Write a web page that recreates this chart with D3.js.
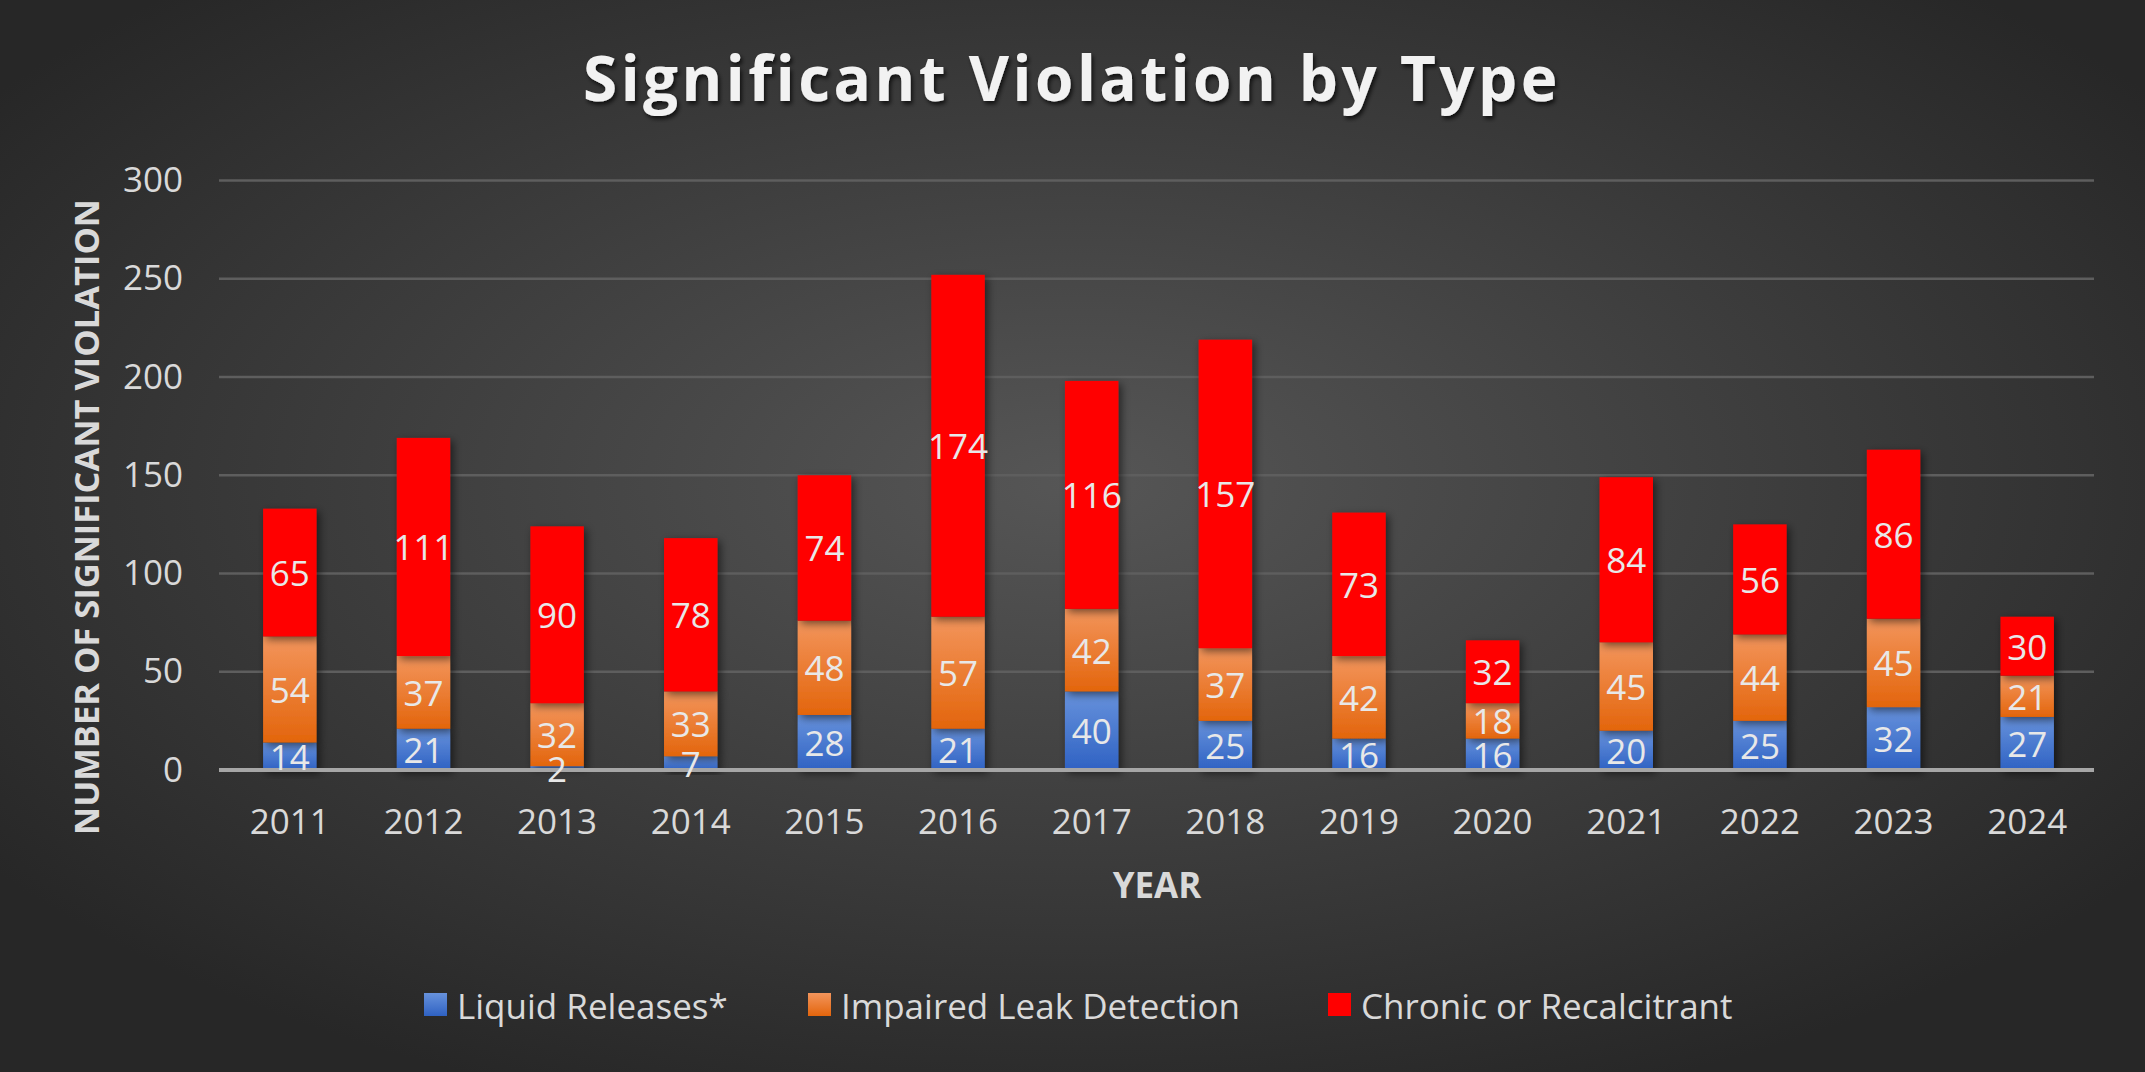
<!DOCTYPE html>
<html><head><meta charset="utf-8">
<script src="https://cdn.jsdelivr.net/npm/d3@7"></script>
<style>html,body{margin:0;padding:0;background:#2b2b2b;overflow:hidden}</style>
</head><body>
<svg id="chart" width="2145" height="1072"></svg>
<script>
const years = ["2011","2012","2013","2014","2015","2016","2017","2018","2019","2020","2021","2022","2023","2024"];
const liquidReleases = [14,21,2,7,28,21,40,25,16,16,20,25,32,27];
const impairedLeak = [54,37,32,33,48,57,42,37,42,18,45,44,45,21];
const chronic = [65,111,90,78,74,174,116,157,73,32,84,56,86,30];
const seriesNames = ["Liquid Releases*","Impaired Leak Detection","Chronic or Recalcitrant"];
const yTicks = [0,50,100,150,200,250,300];

const W = 2145, H = 1072;
const svg = d3.select("#chart");
const defs = svg.append("defs");

const bg = defs.append("radialGradient").attr("id","bg")
  .attr("cx","0.5").attr("cy","0.45").attr("r","0.62").attr("fx","0.5").attr("fy","0.45");
bg.append("stop").attr("offset","0").attr("stop-color","#565656");
bg.append("stop").attr("offset","1").attr("stop-color","#272727");

function vgrad(id, top, bottom){
  const g = defs.append("linearGradient").attr("id",id).attr("x1",0).attr("y1",0).attr("x2",0).attr("y2",1);
  g.append("stop").attr("offset","0").attr("stop-color",top);
  g.append("stop").attr("offset","1").attr("stop-color",bottom);
}
vgrad("gBlue","#6792dc","#2f62c3");
vgrad("gOrange","#f3955c","#e3650c");
vgrad("gRed","#ff0000","#ff0000");
const fills = ["url(#gBlue)","url(#gOrange)","url(#gRed)"];

const sh = defs.append("filter").attr("id","shadow").attr("x","-30%").attr("y","-30%").attr("width","160%").attr("height","160%");
sh.append("feDropShadow").attr("dx",3).attr("dy",3).attr("stdDeviation",4).attr("flood-color","#000").attr("flood-opacity",0.55);
const tsh = defs.append("filter").attr("id","tshadow").attr("x","-10%").attr("y","-30%").attr("width","120%").attr("height","160%");
tsh.append("feDropShadow").attr("dx",2).attr("dy",3).attr("stdDeviation",2).attr("flood-color","#000").attr("flood-opacity",0.7);

svg.append("rect").attr("width",W).attr("height",H).attr("fill","url(#bg)");

const x = d3.scaleBand().domain(years).range([223,2094]).paddingInner(0.6).paddingOuter(0.3);
const y = d3.scaleLinear().domain([0,300]).range([770,180.5]);

// gridlines
svg.append("g").selectAll("line").data(yTicks.filter(d=>d>0)).join("line")
  .attr("x1",219).attr("x2",2094).attr("y1",d=>y(d)).attr("y2",d=>y(d))
  .attr("stroke","#5e5e5e").attr("stroke-width",2.5);

// y axis
const yAxis = svg.append("g").attr("transform","translate(219,0)")
  .call(d3.axisLeft(y).tickValues(yTicks).tickSize(0).tickPadding(36));
yAxis.select(".domain").remove();
yAxis.selectAll("text").attr("fill","#d9d9d9").style("font-family","'Open Sans'").style("font-size","35px");

// stacked data
const rows = years.map((yr,i)=>({year:yr, s0:liquidReleases[i], s1:impairedLeak[i], s2:chronic[i]}));
const stack = d3.stack().keys(["s0","s1","s2"])(rows);

const barsG = svg.append("g");
stack.forEach((layer,k)=>{
  barsG.append("g").selectAll("rect").data(layer).join("rect")
    .attr("x",d=>x(d.data.year)).attr("width",x.bandwidth())
    .attr("y",d=>y(d[1])).attr("height",d=>y(d[0])-y(d[1]))
    .attr("fill",fills[k]).attr("filter","url(#shadow)");
});

// baseline
svg.append("line").attr("x1",219).attr("x2",2094).attr("y1",y(0)).attr("y2",y(0))
  .attr("stroke","#a6a6a6").attr("stroke-width",4);

// labels
stack.forEach((layer,k)=>{
  svg.append("g").selectAll("text").data(layer).join("text")
    .attr("x",d=>x(d.data.year)+x.bandwidth()/2)
    .attr("y",d=>(y(d[0])+y(d[1]))/2)
    .attr("text-anchor","middle").attr("dominant-baseline","central")
    .attr("fill","#e8e8e8").style("font-family","'Open Sans'").style("font-size","35px")
    .text(d=>d[1]-d[0]);
});

// x axis
const xAxis = svg.append("g").attr("transform",`translate(0,${y(0)})`)
  .call(d3.axisBottom(x).tickSize(0).tickPadding(39));
xAxis.select(".domain").remove();
xAxis.selectAll("text").attr("fill","#d9d9d9").style("font-family","'Open Sans'").style("font-size","35px");

// titles
svg.append("text").attr("x",1072).attr("y",101).attr("text-anchor","middle")
  .attr("fill","#f2f2f2").attr("filter","url(#tshadow)")
  .style("font-family","'Open Sans'").style("font-weight","bold").style("font-size","62px")
  .style("letter-spacing","3.5px").text("Significant Violation by Type");

svg.append("text").attr("x",1157).attr("y",898).attr("text-anchor","middle")
  .attr("fill","#d9d9d9").style("font-family","'Open Sans'").style("font-weight","bold").style("font-size","35px")
  .text("YEAR");

svg.append("text").attr("transform","translate(85,517) rotate(-90)").attr("text-anchor","middle")
  .attr("dominant-baseline","central")
  .attr("fill","#d9d9d9").style("font-family","'Open Sans'").style("font-weight","bold").style("font-size","34.5px")
  .text("NUMBER OF SIGNIFICANT VIOLATION");

// legend
const legendX = [424, 808, 1328];
const lg = svg.append("g");
seriesNames.forEach((n,k)=>{
  lg.append("rect").attr("x",legendX[k]).attr("y",993).attr("width",23).attr("height",23).attr("fill",fills[k]);
  lg.append("text").attr("x",legendX[k]+33).attr("y",1005).attr("dominant-baseline","central")
    .attr("fill","#d9d9d9").style("font-family","'Open Sans'").style("font-size","35px").text(n);
});
</script>
</body></html>
